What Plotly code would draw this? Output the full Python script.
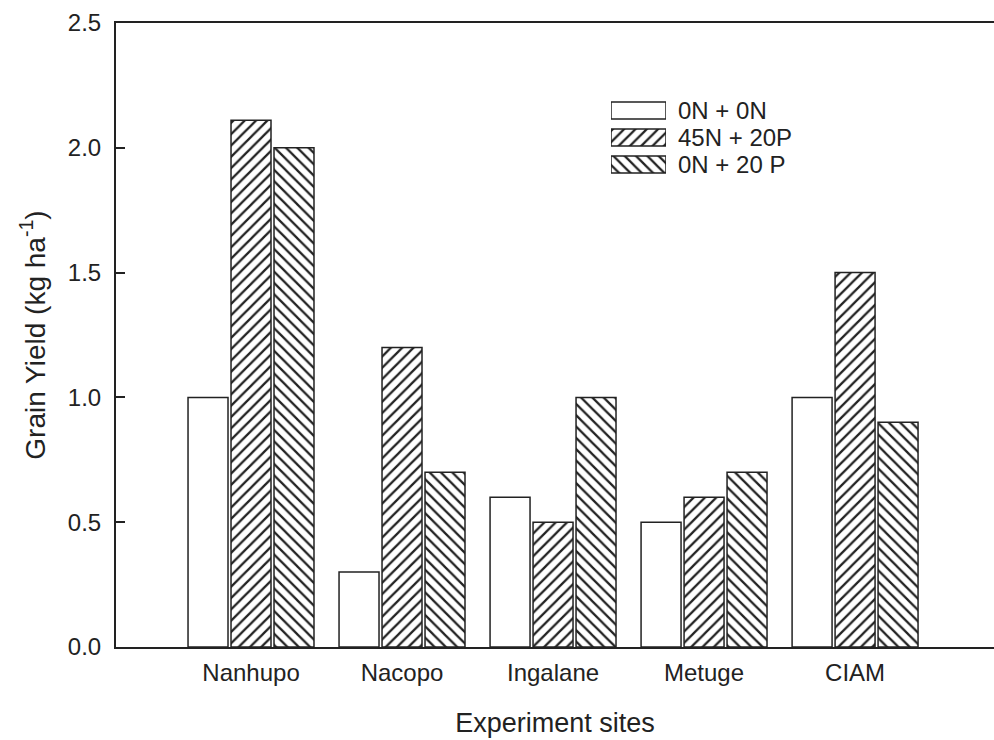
import plotly.graph_objects as go

sites = ["Nanhupo", "Nacopo", "Ingalane", "Metuge", "CIAM"]
series_names = ["0N + 0N", "45N + 20P", "0N + 20 P"]
v_0n0n = [1.0, 0.3, 0.6, 0.5, 1.0]
v_45n20p = [2.11, 1.2, 0.5, 0.6, 1.5]
v_0n20p = [2.0, 0.7, 1.0, 0.7, 0.9]
y_ticks = [0.0, 0.5, 1.0, 1.5, 2.0, 2.5]

INK = "#222222"
FONT = "Liberation Sans, Arial, sans-serif"
patterns = ["", "/", "\\"]
values = [v_0n0n, v_45n20p, v_0n20p]

fig = go.Figure()
for name, vals, pat in zip(series_names, values, patterns):
    fig.add_trace(go.Bar(
        x=sites, y=vals, name=name,
        marker=dict(color="white", line=dict(color=INK, width=1.5),
                    pattern=dict(shape=pat, fgcolor=INK, bgcolor="white",
                                 size=8, solidity=0.28, fillmode="replace")),
        showlegend=False, hoverinfo="skip",
    ))

# custom legend drawn as a small horizontal bar chart
leg_rows = [0, 1, 2]
fig.add_trace(go.Bar(
    x=[1, 1, 1], y=leg_rows, orientation="h", width=0.63,
    xaxis="x2", yaxis="y2",
    marker=dict(color="white", line=dict(color=INK, width=1.5),
                pattern=dict(shape=patterns, fgcolor=INK, bgcolor="white",
                             size=8, solidity=0.28, fillmode="replace")),
    showlegend=False, hoverinfo="skip",
))

W, H = 994, 740
L, R, T, B = 116, 0, 23, 93
pw = W - L - R
ph = H - T - B

for r, name in zip(leg_rows, series_names):
    fig.add_annotation(x=(676 - L) / pw, xref="paper", y=r, yref="y2",
                       text=name, showarrow=False, xanchor="left",
                       font=dict(family=FONT, size=24, color=INK))

fig.update_layout(
    width=W, height=H,
    margin=dict(l=L, r=R, t=T, b=B),
    paper_bgcolor="white", plot_bgcolor="white",
    barmode="group", bargap=0.146, bargroupgap=0.07,
    font=dict(family=FONT, color=INK),
    xaxis=dict(range=[-0.894, 4.92], showline=True, linecolor=INK, linewidth=2,
               mirror=True, ticks="", showgrid=False, zeroline=False,
               tickfont=dict(size=24, color=INK), ticklabelstandoff=3,
               title=dict(text="Experiment sites", font=dict(size=27, color=INK),
                          standoff=28)),
    yaxis=dict(range=[0, 2.5], tickvals=y_ticks, tickformat=".1f",
               showline=True, linecolor=INK, linewidth=2, mirror=False,
               ticks="inside", ticklen=9, tickwidth=1.5, tickcolor=INK,
               showgrid=False, zeroline=False,
               tickfont=dict(size=24, color=INK), ticklabelstandoff=8,
               title=dict(text="Grain Yield (kg ha<sup>-1</sup>)",
                          font=dict(size=28, color=INK), standoff=14)),
    xaxis2=dict(domain=[(611 - L) / pw, (666 - L) / pw], range=[0, 1],
                visible=False, anchor="y2", fixedrange=True),
    yaxis2=dict(domain=[(647 - 178) / ph, (647 - 97) / ph], range=[2.5, -0.5],
                visible=False, anchor="x2", fixedrange=True),
)

fig.write_html("out.html")
